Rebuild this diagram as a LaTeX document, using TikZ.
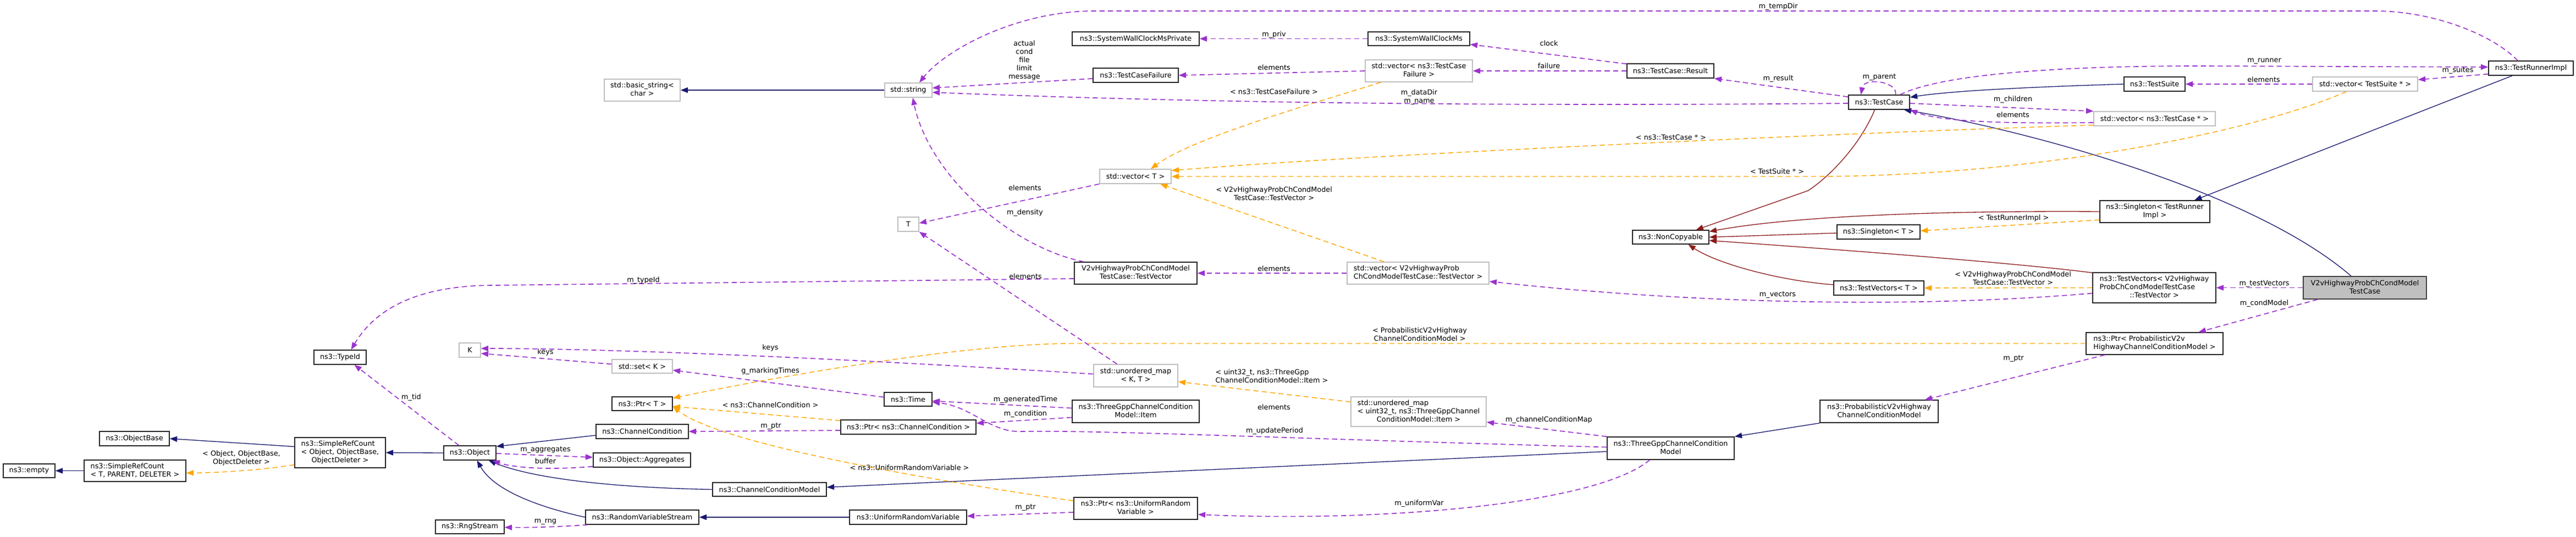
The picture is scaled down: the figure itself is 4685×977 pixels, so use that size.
\documentclass[tikz,border=0pt]{standalone}
\usepackage{fontspec}
\setmainfont{DejaVu Sans}
\usetikzlibrary{arrows.meta,calc}
\definecolor{navy}{HTML}{191970}
\definecolor{dred}{HTML}{8B1A1A}
\definecolor{orng}{HTML}{FFA500}
\definecolor{purp}{HTML}{9A32CD}
\definecolor{gborder}{HTML}{BFBFBF}
\definecolor{gfill}{HTML}{BFBFBF}
\definecolor{dkborder}{HTML}{404040}
\newcommand{\dxl}[2]{\begin{tabular}{@{}l@{}}#1\\\multicolumn{1}{@{}c@{}}{#2}\end{tabular}}
\tikzset{
  sz/.style 2 args={minimum width={#1*0.75pt}, minimum height={#2*0.75pt}},
  box/.style={rectangle, inner sep=0pt, font=\fontsize{9.6}{11.25}\selectfont, text=black},
  cls/.style={box, draw=black!85, line width=1.1pt},
  ucls/.style={box, draw=gborder, line width=1.1pt},
  mainnode/.style={box, draw=dkborder, fill=gfill, line width=1.1pt},
  lbl/.style={inner sep=0pt, font=\fontsize{9.6}{11.25}\selectfont, align=center},
  tip/.style={-{Triangle[length=10pt,width=7.5pt]}},
  inh/.style={draw=navy, line width=1pt, tip},
  priv/.style={draw=dred, line width=1pt, tip},
  tmpl/.style={draw=orng, line width=1.1pt, dash pattern=on 7pt off 4.5pt, tip},
  usage/.style={draw=purp, line width=1.25pt, dash pattern=on 7pt off 4.5pt, tip},
}
\begin{document}
\begin{tikzpicture}[x=0.75pt,y=-0.75pt]
\useasboundingbox (0,0) rectangle (4685,977);
% ---------- nodes ----------
\node[cls, sz={94}{25}] (empty) at (53,856.5) {ns3::empty};
\node[cls, sz={185}{39}] (srcT) at (245.5,856.5) {\dxl{ns3::SimpleRefCount}{< T, PARENT, DELETER >}};
\node[cls, sz={165}{55}] (srcObj) at (618.5,823.5) {\dxl{ns3::SimpleRefCount\\< Object, ObjectBase,}{ObjectDeleter >}};
\node[cls, sz={127}{26}] (objbase) at (244.5,798) {ns3::ObjectBase};
\node[cls, sz={95}{26}] (typeid) at (618.5,650) {ns3::TypeId};
\node[cls, sz={95}{26}] (object) at (854.5,824) {ns3::Object};
\node[ucls, sz={39}{26}] (K) at (854.5,637) {K};
\node[cls, sz={125}{25}] (rng) at (854.5,958.5) {ns3::RngStream};
\node[ucls, sz={110}{25}] (setK) at (1168,666.5) {std::set< K >};
\node[cls, sz={110}{25}] (ptrT) at (1168,734.5) {ns3::Ptr< T >};
\node[cls, sz={168}{26}] (chcond) at (1168,785) {ns3::ChannelCondition};
\node[cls, sz={177}{26}] (aggr) at (1167.5,837) {ns3::Object::Aggregates};
\node[cls, sz={206}{26}] (rvs) at (1168,941) {ns3::RandomVariableStream};
\node[cls, sz={207}{25}] (ccm) at (1399.5,890.5) {ns3::ChannelConditionModel};
\node[ucls, sz={138}{40}] (bstr) at (1168,164) {\dxl{std::basic\_string<}{char >}};
\node[ucls, sz={86}{26}] (str) at (1652,164) {std::string};
\node[ucls, sz={38}{26}] (T) at (1652,408) {T};
\node[cls, sz={87}{25}] (time) at (1651.5,726.5) {ns3::Time};
\node[cls, sz={246}{26}] (ptrCC) at (1652,777) {ns3::Ptr< ns3::ChannelCondition >};
\node[cls, sz={213}{26}] (urv) at (1651.5,941) {ns3::UniformRandomVariable};
\node[cls, sz={231}{25}] (swcmp) at (2065.5,70.5) {ns3::SystemWallClockMsPrivate};
\node[cls, sz={155}{26}] (tcf) at (2065.5,137) {ns3::TestCaseFailure};
\node[ucls, sz={130}{26}] (vecT) at (2065,321) {std::vector< T >};
\node[cls, sz={223}{40}] (v2vtv) at (2065.5,497) {\dxl{V2vHighwayProbChCondModel}{TestCase::TestVector}};
\node[ucls, sz={153}{41}] (umapKT) at (2065.5,683.5) {\dxl{std::unordered\_map}{< K, T >}};
\node[cls, sz={231}{41}] (item) at (2065.5,748.5) {\dxl{ns3::ThreeGppChannelCondition}{Model::Item}};
\node[cls, sz={225}{40}] (ptrURV) at (2065.5,925) {\dxl{ns3::Ptr< ns3::UniformRandom}{Variable >}};
\node[cls, sz={185}{25}] (swcm) at (2580.5,70.5) {ns3::SystemWallClockMs};
\node[ucls, sz={195}{40}] (vecTCF) at (2580.5,129) {\dxl{std::vector< ns3::TestCase}{Failure >}};
\node[ucls, sz={258}{40}] (vecV2v) at (2579,497) {\dxl{std::vector< V2vHighwayProb}{ChCondModelTestCase::TestVector >}};
\node[ucls, sz={246}{54}] (umapU) at (2580,749) {\dxl{std::unordered\_map\\< uint32\_t, ns3::ThreeGppChannel}{ConditionModel::Item >}};
\node[cls, sz={158}{26}] (result) at (3038,129) {ns3::TestCase::Result};
\node[cls, sz={139}{25}] (noncopy) at (3038.5,431.5) {ns3::NonCopyable};
\node[cls, sz={231}{41}] (tgccm) at (3038.5,815.5) {\dxl{ns3::ThreeGppChannelCondition}{Model}};
\node[cls, sz={111}{26}] (testcase) at (3417.5,186) {ns3::TestCase};
\node[cls, sz={151}{26}] (singT) at (3416.5,422) {ns3::Singleton< T >};
\node[cls, sz={164}{26}] (tvT) at (3417,524) {ns3::TestVectors< T >};
\node[cls, sz={215}{41}] (probv2v) at (3417.5,748.5) {\dxl{ns3::ProbabilisticV2vHighway}{ChannelConditionModel}};
\node[cls, sz={111}{26}] (testsuite) at (3918.5,153) {ns3::TestSuite};
\node[ucls, sz={221}{26}] (vecTC) at (3918.5,216) {std::vector< ns3::TestCase * >};
\node[cls, sz={200}{40}] (singTRI) at (3919,385) {\dxl{ns3::Singleton< TestRunner}{Impl >}};
\node[cls, sz={224}{55}] (tvV2v) at (3918,523.5) {\dxl{ns3::TestVectors< V2vHighway\\ProbChCondModelTestCase}{::TestVector >}};
\node[cls, sz={249}{40}] (ptrProb) at (3918.5,625) {\dxl{ns3::Ptr< ProbabilisticV2v}{HighwayChannelConditionModel >}};
\node[ucls, sz={191}{26}] (vecTS) at (4301.5,153) {std::vector< TestSuite * >};
\node[mainnode, sz={224}{41}] (gray) at (4301,523.5) {\dxl{V2vHighwayProbChCondModel}{TestCase}};
\node[cls, sz={154}{26}] (tri) at (4603,124) {ns3::TestRunnerImpl};
% ---------- inheritance (navy) ----------
\draw[inh] (str.west) -- (bstr.east);
\draw[inh] ($(srcObj.west)+(0,-11)$) -- (objbase.east);
\draw[inh] (object.west) -- (srcObj.east);
\draw[inh] (srcT.west) -- (empty.east);
\draw[inh] ($(chcond.west)+(0,7)$) -- ($(object.north east)+(0,2)$);
\draw[inh] (ccm.west) .. controls (1150,888) and (980,875) .. ($(object.south east)+(-14,0)$);
\draw[inh] (rvs.west) .. controls (990,925) and (900,895) .. ($(object.south)+(13,0)$);
\draw[inh] (urv.west) -- (rvs.east);
\draw[inh] ($(tgccm.west)+(0,6)$) -- ($(ccm.east)+(0,-4)$);
\draw[inh] (probv2v.south west) -- (tgccm.north east);
\draw[inh] (testsuite.west) .. controls (3700,158) and (3550,165) .. ($(testcase.east)+(0,-9)$);
\draw[inh] ($(gray.north)+(-25,0)$) .. controls (4100,350) and (3700,240) .. ($(testcase.south east)+(-11,0)$);
\draw[inh] ($(tri.south)+(-34,0)$) -- ($(singTRI.north)+(72,0)$);
% ---------- private inheritance (dark red) ----------
\draw[priv] ($(testcase.south)+(-8,0)$) .. controls (3385,260) and (3330,320) .. (3288,347) -- ($(noncopy.north)+(46,0)$);
\draw[priv] (singTRI.west) .. controls (3500,383) and (3250,395) .. ($(noncopy.north east)+(0,3)$);
\draw[priv] ($(singT.west)+(0,2)$) -- (noncopy.east);
\draw[priv] ($(tvV2v.north west)+(0,1)$) .. controls (3720,485) and (3500,465) .. ($(noncopy.east)+(0,6)$);
\draw[priv] ($(tvT.west)+(0,-6)$) .. controls (3230,510) and (3120,478) .. ($(noncopy.south)+(32,0)$);
% ---------- template instances (orange) ----------
\draw[tmpl] ($(srcObj.west)+(0,22)$) .. controls (480,855) and (400,860) .. ($(srcT.east)+(0,4)$);
\draw[tmpl] ($(singTRI.west)+(0,15)$) -- ($(singT.east)+(0,-2)$);
\draw[tmpl] (tvV2v.west) -- (tvT.east);
\draw[tmpl] ($(vecTCF.south west)+(29,0)$) .. controls (2400,185) and (2170,250) .. ($(vecT.north)+(28,0)$);
\draw[tmpl] ($(vecTC.south west)+(0,-2)$) .. controls (3400,240) and (2500,280) .. ($(vecT.north east)+(0,3)$);
\draw[tmpl] ($(vecTS.south west)+(62,0)$) .. controls (4100,240) and (3700,321) .. (3300,321) -- (vecT.east);
\draw[tmpl] ($(vecV2v.north west)+(68,0)$) -- ($(vecT.south)+(45,0)$);
\draw[tmpl] ($(ptrCC.north west)+(0,2)$) -- ($(ptrT.east)+(0,5)$);
\draw[tmpl] ($(ptrURV.north west)+(0,7)$) .. controls (1600,860) and (1300,800) .. ($(ptrT.east)+(0,5)$);
\draw[tmpl] (ptrProb.west) -- (1950,625) .. controls (1750,625) and (1400,688) .. ($(ptrT.north east)+(0,3)$);
\draw[tmpl] ($(umapU.north west)+(0,10)$) -- ($(umapKT.east)+(0,11)$);
% ---------- usage (purple) ----------
\draw[usage] ($(tri.north)+(-24,0)$) .. controls (4530,60) and (4420,20) .. (4320,20) -- (1990,20) .. controls (1850,20) and (1720,90) .. ($(str.north)+(20,0)$);
\draw[usage] ($(tcf.west)+(0,6)$) -- ($(str.east)+(0,-4)$);
\draw[usage] ($(testcase.west)+(0,2)$) .. controls (2900,192) and (2300,192) .. ($(str.east)+(0,4)$);
\draw[usage] ($(testcase.north west)+(0,4)$) -- (result.south east);
\draw[usage] ($(testcase.north)+(30,0)$) .. controls (3452,148) and (3390,140) .. ($(testcase.north)+(-33,0)$);
\draw[usage] ($(testcase.north east)+(-18,0)$) .. controls (3520,140) and (3700,120) .. (4000,120) -- ($(tri.west)+(0,-2)$);
\draw[usage] ($(testcase.east)+(0,2)$) -- (vecTC.north west);
\draw[usage] ($(vecTC.west)+(0,7)$) .. controls (3650,225) and (3530,222) .. (testcase.south east);
\draw[usage] ($(tri.south west)+(0,-3)$) -- ($(vecTS.east)+(0,-8)$);
\draw[usage] (vecTS.west) -- (testsuite.east);
\draw[usage] ($(result.north west)+(0,1)$) -- ($(swcm.south east)+(0,-3)$);
\draw[usage] (result.west) -- (vecTCF.east);
\draw[usage] (swcm.west) -- (swcmp.east);
\draw[usage] (vecTCF.west) -- (tcf.east);
\draw[usage] (vecT.south west) -- ($(T.east)+(0,-2)$);
\draw[usage] ($(v2vtv.north west)+(18,0)$) .. controls (1840,450) and (1690,320) .. ($(str.south)+(8,0)$);
\draw[usage] (vecV2v.west) -- (v2vtv.east);
\draw[usage] ($(v2vtv.west)+(0,10)$) -- (900,519) .. controls (780,519) and (690,550) .. ($(typeid.north)+(20,0)$);
\draw[usage] ($(umapKT.north)+(-34,0)$) -- (T.south east);
\draw[usage] ($(umapKT.west)+(0,-3)$) .. controls (1500,650) and (1100,634) .. ($(K.east)+(0,-3)$);
\draw[usage] ($(setK.west)+(0,-4)$) -- ($(K.east)+(0,6)$);
\draw[usage] ($(time.west)+(0,-4)$) -- ($(setK.east)+(0,7)$);
\draw[usage] ($(item.west)+(0,-6)$) -- ($(time.east)+(0,3)$);
\draw[usage] ($(item.west)+(0,11)$) -- ($(ptrCC.east)+(0,-7)$);
\draw[usage] ($(tgccm.west)+(0,-2)$) .. controls (2400,800) and (2000,782) .. (1860,785) .. controls (1800,788) and (1770,740) .. ($(time.east)+(0,5)$);
\draw[usage] ($(ptrCC.west)+(0,6)$) -- (chcond.east);
\draw[usage] ($(ptrURV.west)+(0,7)$) -- ($(urv.east)+(0,-2)$);
\draw[usage] ($(tgccm.south)+(-38,0)$) .. controls (2900,920) and (2500,950) .. ($(ptrURV.east)+(0,11)$);
\draw[usage] (tgccm.north west) -- ($(umapU.east)+(0,19)$);
\draw[usage] ($(tvV2v.west)+(0,10)$) .. controls (3500,560) and (3100,555) .. ($(vecV2v.east)+(0,15)$);
\draw[usage] (gray.west) -- (tvV2v.east);
\draw[usage] ($(gray.south west)+(27,0)$) -- ($(ptrProb.north)+(80,0)$);
\draw[usage] ($(ptrProb.south west)+(35,0)$) -- ($(probv2v.north east)+(-25,0)$);
\draw[usage] ($(object.north)+(-20,0)$) -- ($(typeid.south)+(26,0)$);
\draw[usage] ($(object.east)+(0,1)$) -- ($(aggr.west)+(0,-5)$);
\draw[usage] ($(aggr.south west)+(0,-2)$) .. controls (990,856) and (930,850) .. ($(object.south east)+(-7,0)$);
\draw[usage] ($(rvs.south west)+(5,0)$) .. controls (1020,958) and (980,960) .. ($(rng.east)+(0,1)$);
% ---------- edge labels ----------
\node[lbl] (la1) at (439,834) {\dxl{< Object, ObjectBase,}{ObjectDeleter >}};
\node[lbl] (la2) at (748,723) {m\_tid};
\node[lbl] (la3) at (1170,510) {m\_typeId};
\node[lbl] (la4) at (992,641) {keys};
\node[lbl] (la5) at (1401,633) {keys};
\node[lbl] (la6) at (1401,675) {g\_markingTimes};
\node[lbl] (la7) at (1401,737) {< ns3::ChannelCondition >};
\node[lbl] (la8) at (1402,776) {m\_ptr};
\node[lbl] (la9) at (992,819) {m\_aggregates};
\node[lbl] (la10) at (992,839) {buffer};
\node[lbl] (la11) at (1654,851) {< ns3::UniformRandomVariable >};
\node[lbl] (la12) at (992,949) {m\_rng};
\node[lbl] (la13) at (1863,109.5) {actual\\cond\\file\\limit\\message};
\node[lbl] (la14) at (1864,342) {elements};
\node[lbl] (la15) at (1864,387) {m\_density};
\node[lbl] (la16) at (2317,63) {m\_priv};
\node[lbl] (la17) at (2317,123) {elements};
\node[lbl] (la18) at (2317,167) {< ns3::TestCaseFailure >};
\node[lbl] (la19) at (2581,176.5) {m\_dataDir\\m\_name};
\node[lbl] (la20) at (2317,354) {\dxl{< V2vHighwayProbChCondModel}{TestCase::TestVector >}};
\node[lbl] (la21) at (2317,489) {elements};
\node[lbl] (la22) at (2582,610) {\dxl{< ProbabilisticV2vHighway}{ChannelConditionModel >}};
\node[lbl] (la23) at (2313,686) {\dxl{< uint32\_t, ns3::ThreeGpp}{ChannelConditionModel::Item >}};
\node[lbl] (la24) at (2317,741) {elements};
\node[lbl] (la25) at (1865,727) {m\_generatedTime};
\node[lbl] (la26) at (1865,753) {m\_condition};
\node[lbl] (la27) at (2318,784) {m\_updatePeriod};
\node[lbl] (la28) at (1865,924) {m\_ptr};
\node[lbl] (la29) at (2581,916) {m\_uniformVar};
\node[lbl] (la30) at (1865,503) {elements};
\node[lbl] (la31) at (3234,12) {m\_tempDir};
\node[lbl] (la32) at (2817,79) {clock};
\node[lbl] (la33) at (2817,120) {failure};
\node[lbl] (la34) at (3234,143) {m\_result};
\node[lbl] (la35) at (3418,141) {m\_parent};
\node[lbl] (la36) at (3039,250) {< ns3::TestCase * >};
\node[lbl] (la37) at (3232,312) {< TestSuite * >};
\node[lbl] (la38) at (3233,537) {m\_vectors};
\node[lbl] (la39) at (2817,764) {m\_channelConditionMap};
\node[lbl] (la40) at (4118,111) {m\_runner};
\node[lbl] (la41) at (4470,128) {m\_suites};
\node[lbl] (la42) at (4117,145) {elements};
\node[lbl] (la43) at (3661,181) {m\_children};
\node[lbl] (la44) at (3661,209) {elements};
\node[lbl] (la45) at (3662,397) {< TestRunnerImpl >};
\node[lbl] (la46) at (3661,508) {\dxl{< V2vHighwayProbChCondModel}{TestCase::TestVector >}};
\node[lbl] (la47) at (4118,516) {m\_testVectors};
\node[lbl] (la48) at (4118,552) {m\_condModel};
\node[lbl] (la49) at (3662,653) {m\_ptr};
\end{tikzpicture}
\end{document}
